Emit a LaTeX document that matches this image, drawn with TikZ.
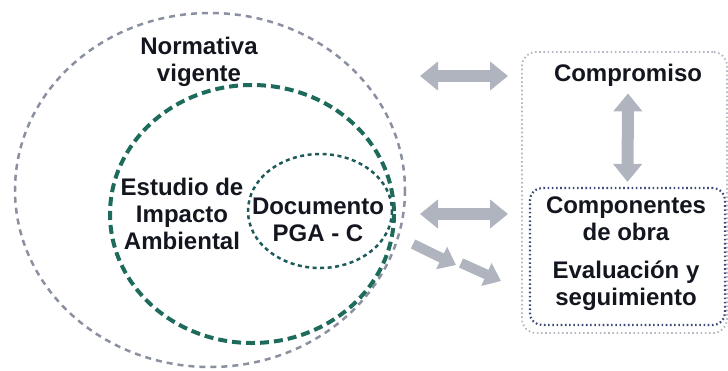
\documentclass[tikz,border=0pt]{standalone}
\usepackage{fontspec}
\setmainfont{Liberation Sans}
\usepackage{tikz}
\usetikzlibrary{arrows.meta,positioning}
\usepackage{xcolor}
\definecolor{ringgray}{HTML}{8A90A0}
\definecolor{ringgreen}{HTML}{1E6B5C}
\definecolor{docteal}{HTML}{1F5A5A}
\definecolor{boxnavy}{HTML}{3C4A78}
\definecolor{boxgray}{HTML}{B4B8C2}
\definecolor{arrowgray}{HTML}{B0B4BF}
\definecolor{txt}{HTML}{14161F}

\begin{document}
\begin{tikzpicture}
    [x=1pt,y=-1pt,
     lbl/.style={
      align=center,
      inner sep=0pt,
      text=txt,
      font=\fontsize{24}{27}\selectfont\bfseries
      },
     ring/.style={draw=#1,line width=2.5pt,dash pattern=on 6pt off 5pt},
     ring/.default=ringgray,
     fatarrow/.style={draw=arrowgray,line width=12pt,
      {Triangle[width=28pt,length=18pt]}-{Triangle[width=28pt,length=18pt]}},
     onearrow/.style={draw=arrowgray,line width=10pt,
      -{Triangle[width=24pt,length=16pt]}},
     dotbox/.style={rectangle,rounded corners=14pt,draw=#1,line width=1.8pt,
      dash pattern=on 1.6pt off 2.6pt},
     dotbox/.default=boxgray]

    \useasboundingbox (0,0) rectangle (728,370);

    \coordinate (cnorm) at (210,190);
    \coordinate (ceia)  at (252,214);
    \coordinate (cpga)  at (320,211);

    \draw[ring] (cnorm) ellipse [x radius=195, y radius=177];
    \draw[ring=ringgreen, line width=4pt, dash pattern=on 9pt off 5pt] (ceia) ellipse [x radius=142, y radius=129];
    \draw[ring=docteal, line width=2.5pt, dash pattern=on 4pt off 3.5pt] (cpga) ellipse [x radius=72, y radius=57];

    \node (norm) [lbl] at (199,62)  {Normativa\\vigente};
    \node (eia)  [lbl] at (182,214) {Estudio de\\Impacto\\Ambiental};
    \node (pga)  [lbl] at (318,220) {Documento\\PGA - C};

    \node (outbox) [dotbox, minimum width=205pt, minimum height=281pt] at (624.5,192.5) {};
    \node (inbox)  [dotbox=boxnavy, line width=2.2pt, rounded corners=12pt, minimum width=195pt, minimum height=137pt] at (627.5,256.5) {};

    \node (comp) [lbl] at (628,75)  {Compromiso};
    \node (obra) [lbl] at (626,219) {Componentes\\de obra};
    \node (eval) [lbl] at (626,286) {Evaluación y\\seguimiento};

    \coordinate (h1l) at (420,76);  \coordinate (h1r) at (508,76);
    \coordinate (h2l) at (420,214); \coordinate (h2r) at (508,214);
    \coordinate (d1a) at (413,244); \coordinate (d1b) at (456,265);
    \coordinate (d2a) at (461,263); \coordinate (d2b) at (501,281);

    \draw[fatarrow] (h1l) -- (h1r);
    \draw[fatarrow] (h2l) -- (h2r);
    \draw[onearrow] (d1a) -- (d1b);
    \draw[onearrow] (d2a) -- (d2b);
    \draw[fatarrow] ([yshift=-7pt]comp.south) -- ([yshift=5pt]inbox.north);

  \end{tikzpicture}
\end{document}
